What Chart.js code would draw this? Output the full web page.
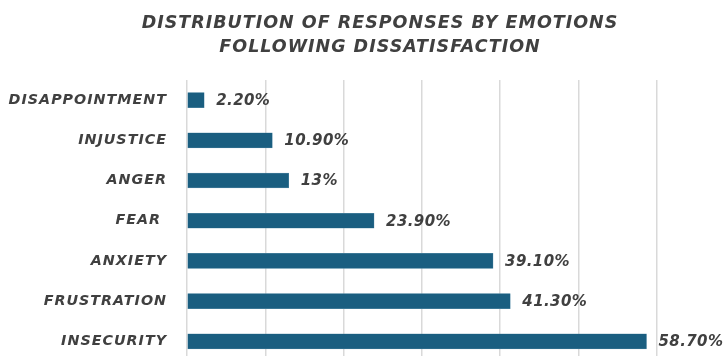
<!DOCTYPE html>
<html>
<head>
<meta charset="utf-8">
<script src="https://cdn.jsdelivr.net/npm/chart.js@4.4.0/dist/chart.umd.min.js"></script>
<style>
  html, body { margin: 0; padding: 0; background: #ffffff; overflow: hidden; }
  #wrap { width: 723px; height: 356px; overflow: hidden; }
</style>
</head>
<body>
<!-- the reference is a crop of a slightly bigger chart, so the canvas runs past the window -->
<div id="wrap"><canvas id="myChart" width="760" height="370"></canvas></div>
<script>
const emotions = ['DISAPPOINTMENT', 'INJUSTICE', 'ANGER', 'FEAR ', 'ANXIETY', 'FRUSTRATION', 'INSECURITY']
const shares = [2.2, 10.9, 13, 23.9, 39.1, 41.3, 58.7]
const shareLabels = ['2.20%', '10.90%', '13%', '23.90%', '39.10%', '41.30%', '58.70%']

const txtColor = '#404040'
const barColor = '#1a5e80'

// wide lettering like the original
const spacing = {
    id: 'spacing',
    beforeDraw(chart) {
        chart.ctx.letterSpacing = '1px'
    }
}

// value text at the end of each bar
const valueLabels = {
    id: 'valueLabels',
    afterDatasetsDraw(chart) {
        const ctx = chart.ctx
        const meta = chart.getDatasetMeta(0)
        ctx.save()
        ctx.letterSpacing = '0.4px'
        ctx.font = 'italic bold 15px "DejaVu Sans"'
        ctx.fillStyle = txtColor
        ctx.textAlign = 'left'
        ctx.textBaseline = 'middle'
        meta.data.forEach((bar, i) => {
            ctx.fillText(shareLabels[i], bar.x + 12, bar.y + 1)
        })
        ctx.restore()
    }
}

const data = {
    labels: emotions,
    datasets: [{
        label: 'Responses',
        data: shares,
        backgroundColor: barColor,
        borderColor: '#5f93ad',
        borderWidth: 0.5,
        borderSkipped: false,
        barThickness: 15
    }]
}

const config = {
    type: 'bar',
    data: data,
    plugins: [spacing, valueLabels],
    options: {
        indexAxis: 'y',
        responsive: false,
        animation: false,
        layout: {
            padding: 0
        },
        scales: {
            x: {
                min: 0,
                max: 73.2,
                afterBuildTicks: (scale) => {
                    scale.ticks = scale.ticks.filter(t => t.value % 10 === 0)
                },
                ticks: { display: false, stepSize: 10 },
                grid: { color: '#d9d9d9', lineWidth: 1.5, drawTicks: false },
                border: { display: false }
            },
            y: {
                afterFit: (scale) => { scale.width = 187 },
                grid: { display: true, drawOnChartArea: false, drawTicks: true, tickLength: 20, color: 'rgba(0,0,0,0)' },
                border: { display: false },
                ticks: {
                    color: txtColor,
                    padding: 0,
                    font: { family: '"DejaVu Sans"', size: 14.3, style: 'italic', weight: 'bold' }
                }
            }
        },
        plugins: {
            legend: { display: false },
            tooltip: { enabled: false },
            title: {
                display: true,
                text: ['DISTRIBUTION OF RESPONSES BY EMOTIONS', 'FOLLOWING DISSATISFACTION'],
                color: txtColor,
                font: { family: '"DejaVu Sans"', size: 17.5, style: 'italic', weight: 'bold', lineHeight: 24 / 17.5 },
                padding: { top: 11, bottom: 21 }
            }
        }
    }
}

const myChart = new Chart(document.getElementById('myChart'), config)
</script>
</body>
</html>
